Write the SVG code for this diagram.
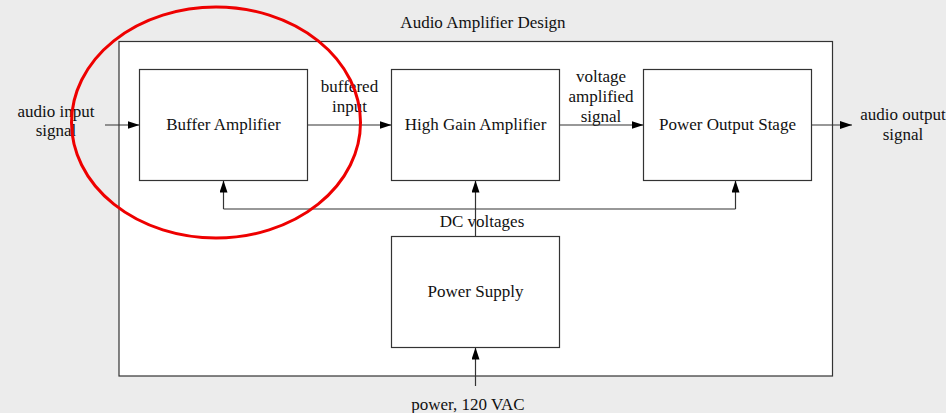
<svg xmlns="http://www.w3.org/2000/svg" width="946" height="413" viewBox="0 0 946 413">
<defs>
<style>
text{font-family:"Liberation Serif","Times New Roman",serif;font-size:17px;fill:#111;text-anchor:middle}
.box{fill:#fff;stroke:#333;stroke-width:1.2}
.ln{fill:none;stroke:#333;stroke-width:1.2}
</style>
<marker id="ah" viewBox="0 0 12 8" refX="12" refY="4" markerWidth="12" markerHeight="8" markerUnits="userSpaceOnUse" orient="auto">
<path d="M0,0 L12,4 L0,8 Z" fill="#000"/>
</marker>
</defs>
<rect x="0" y="0" width="946" height="413" fill="#ececec"/>
<g id="frame">
<rect x="119" y="41.5" width="713.5" height="334.5" class="box"/>
<text x="483" y="28">Audio Amplifier Design</text>
</g>
<g id="connectors">
<line x1="105" y1="125" x2="139.5" y2="125" class="ln" marker-end="url(#ah)"/>
<line x1="307.5" y1="125" x2="391.5" y2="125" class="ln" marker-end="url(#ah)"/>
<line x1="559.5" y1="125" x2="643.5" y2="125" class="ln" marker-end="url(#ah)"/>
<line x1="811.5" y1="125" x2="852" y2="125" class="ln" marker-end="url(#ah)"/>
<line x1="475.5" y1="236.5" x2="475.5" y2="180.5" class="ln" marker-end="url(#ah)"/>
<polyline points="223.5,209 223.5,180.5" class="ln" marker-end="url(#ah)"/>
<polyline points="735.5,209 735.5,180.5" class="ln" marker-end="url(#ah)"/>
<line x1="223.5" y1="209" x2="735.5" y2="209" class="ln"/>
<line x1="475.5" y1="386" x2="475.5" y2="347.5" class="ln" marker-end="url(#ah)"/>
<text x="349.5" y="92">buffered</text>
<text x="349.5" y="112">input</text>
<text x="601" y="82">voltage</text>
<text x="601" y="102">amplified</text>
<text x="601" y="122">signal</text>
<text x="56" y="117">audio input</text>
<text x="56" y="136">signal</text>
<text x="903" y="120">audio output</text>
<text x="903" y="140">signal</text>
<text x="482" y="227">DC voltages</text>
<text x="468" y="410">power, 120 VAC</text>
</g>
<g id="buffer">
<rect x="139.5" y="69.5" width="168" height="111" class="box"/>
<text x="223.5" y="130">Buffer Amplifier</text>
</g>
<g id="highgain">
<rect x="391.5" y="69.5" width="168" height="111" class="box"/>
<text x="475.5" y="130">High Gain Amplifier</text>
</g>
<g id="output">
<rect x="643.5" y="69.5" width="168" height="111" class="box"/>
<text x="727.5" y="130">Power Output Stage</text>
</g>
<g id="supply">
<rect x="391.5" y="236.5" width="168" height="111" class="box"/>
<text x="475.5" y="297">Power Supply</text>
</g>
<ellipse id="highlight" cx="216" cy="122.5" rx="144.5" ry="115.5" fill="none" stroke="#e00" stroke-width="3"/>
</svg>
